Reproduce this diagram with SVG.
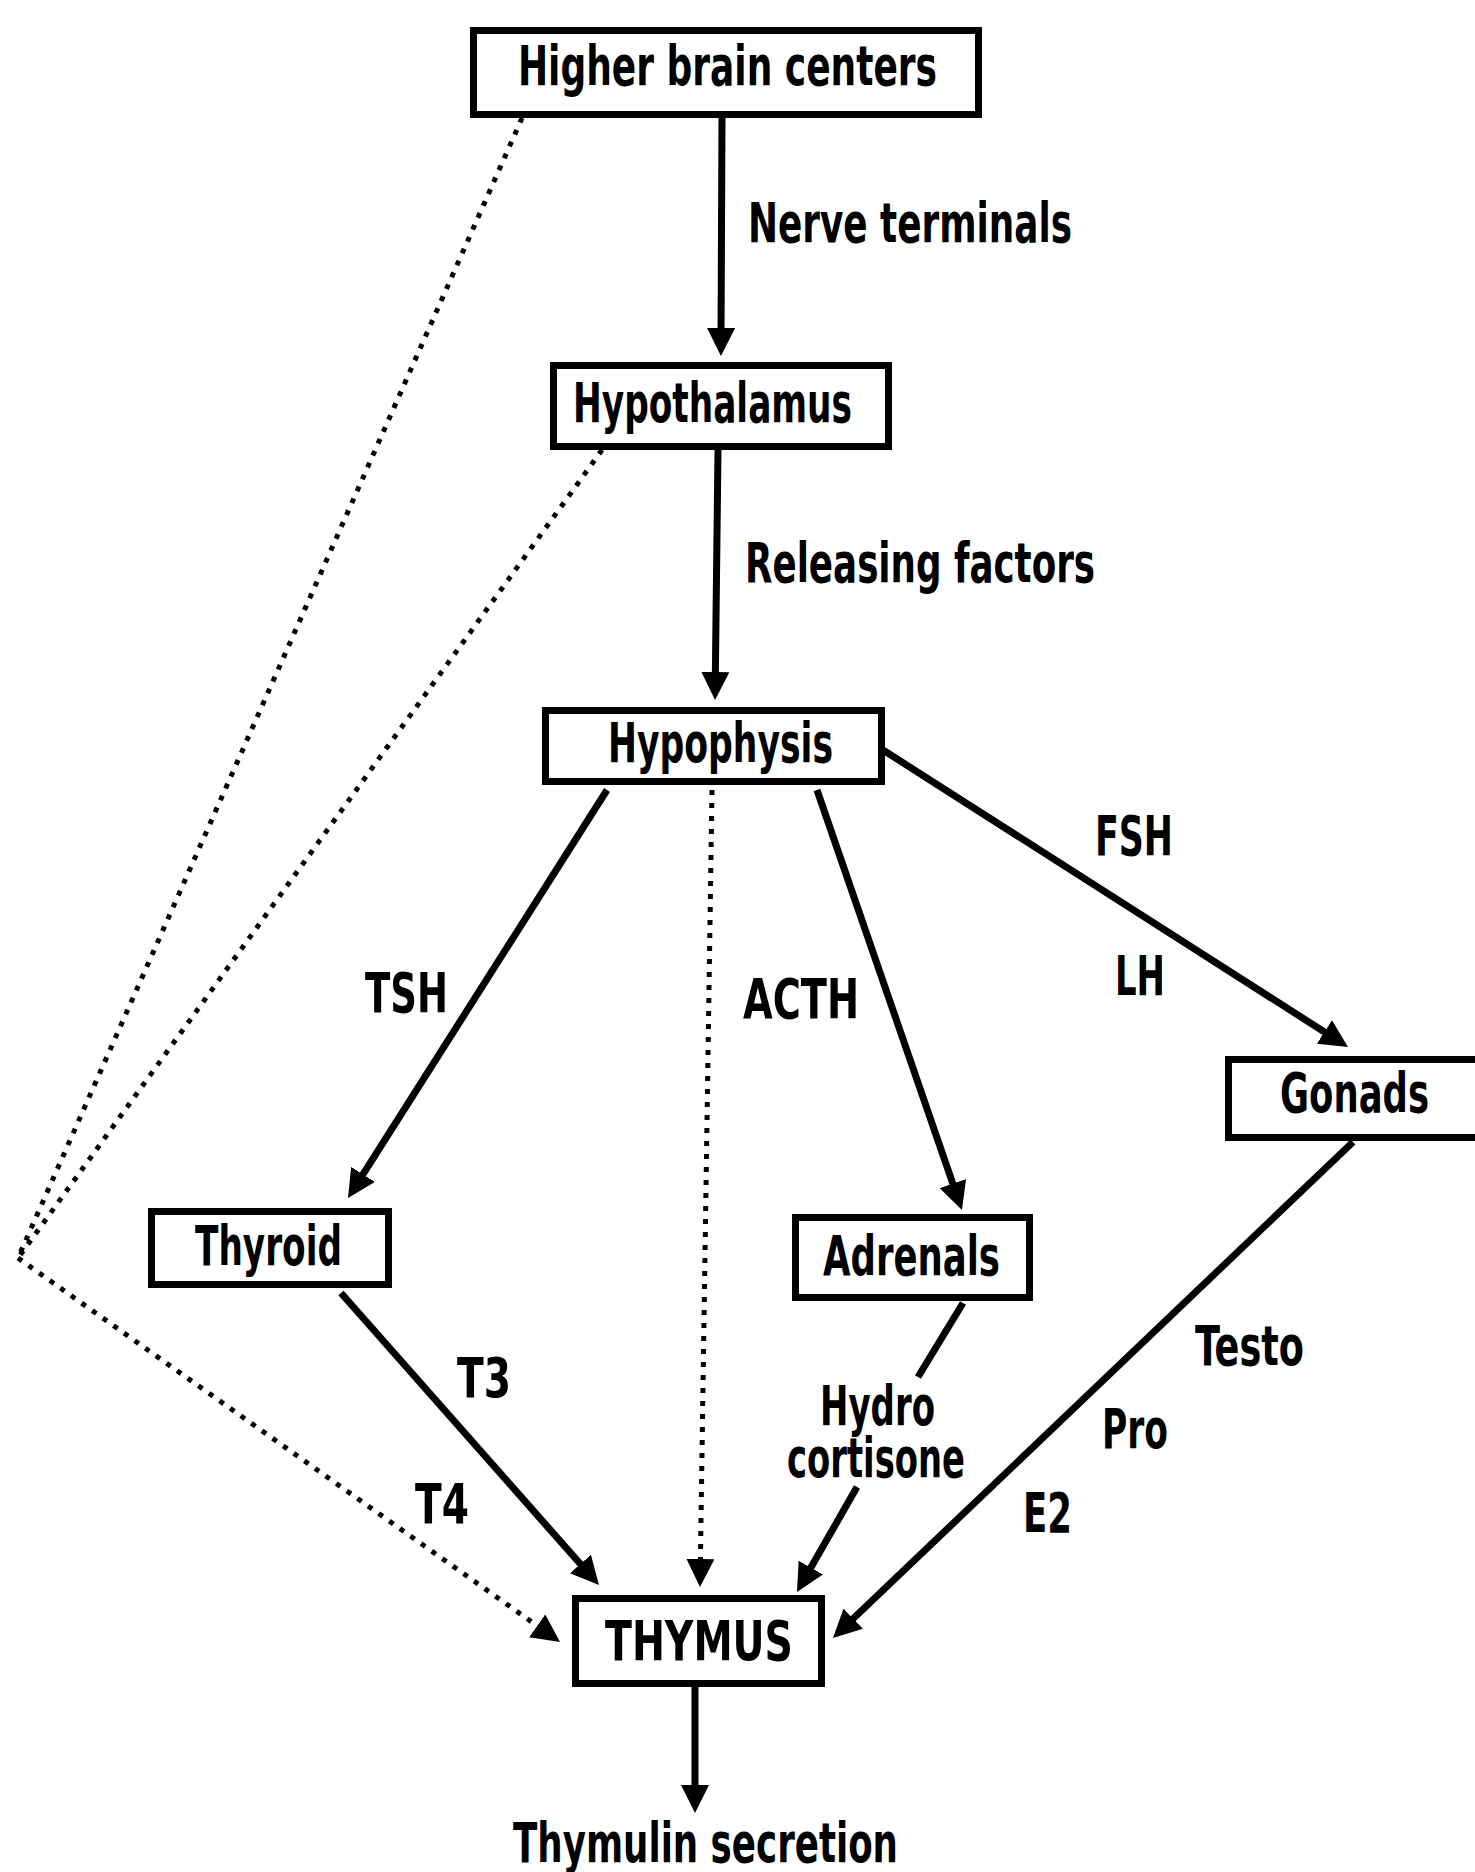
<svg xmlns="http://www.w3.org/2000/svg" width="1475" height="1872" viewBox="0 0 1475 1872">
<defs>
<style>
.box{fill:#fff;stroke:#000;stroke-width:7}
.t{font-family:"Liberation Sans Narrow","DejaVu Sans Condensed","Liberation Sans",Arial,sans-serif;font-weight:bold;font-size:56px;fill:#000}
.s{fill:none;stroke:#000;stroke-width:7}
.d{fill:none;stroke:#000;stroke-width:5;stroke-dasharray:5 8}
</style>
<marker id="ah" viewBox="0 0 28 28" refX="14" refY="14" markerWidth="28" markerHeight="28" markerUnits="userSpaceOnUse" orient="auto">
<path d="M0,0 L28,14 L0,28 Z" fill="#000"/>
</marker>
</defs>
<rect width="1475" height="1872" fill="#fff"/>
<g id="connectors">
<line class="s" x1="722" y1="118" x2="721" y2="342" marker-end="url(#ah)"/>
<line class="s" x1="718" y1="450" x2="715.2" y2="686" marker-end="url(#ah)"/>
<line class="s" x1="607" y1="790" x2="355.5" y2="1186.2" marker-end="url(#ah)"/>
<line class="s" x1="817" y1="790" x2="957.4" y2="1196.8" marker-end="url(#ah)"/>
<line class="s" x1="883" y1="750" x2="1336.2" y2="1039.5" marker-end="url(#ah)"/>
<line class="s" x1="341" y1="1293" x2="589.7" y2="1574.5" marker-end="url(#ah)"/>
<line class="s" x1="963" y1="1303" x2="918" y2="1377"/>
<line class="s" x1="857" y1="1487" x2="803.9" y2="1579.8" marker-end="url(#ah)"/>
<line class="s" x1="1353" y1="1142" x2="843.1" y2="1628.3" marker-end="url(#ah)"/>
<line class="s" x1="695" y1="1687" x2="695" y2="1799" marker-end="url(#ah)"/>
<line class="d" x1="712" y1="790" x2="700.2" y2="1573" marker-end="url(#ah)"/>
<line class="d" x1="522" y1="118" x2="18" y2="1258"/>
<line class="d" x1="602" y1="450" x2="18" y2="1258"/>
<line class="d" x1="18" y1="1258" x2="548.6" y2="1633.9" marker-end="url(#ah)"/>
</g>
<g id="n-higher">
<rect class="box" x="473.5" y="30.5" width="505" height="84"/>
<text class="t" x="518" y="85" textLength="419" lengthAdjust="spacingAndGlyphs" font-size="58">Higher brain centers</text>
</g>
<text class="t" x="748" y="242" textLength="324" lengthAdjust="spacingAndGlyphs">Nerve terminals</text>
<g id="n-hypothalamus">
<rect class="box" x="553.5" y="365.5" width="335" height="81"/>
<text class="t" x="573" y="422" textLength="279" lengthAdjust="spacingAndGlyphs">Hypothalamus</text>
</g>
<text class="t" x="745" y="582" textLength="350" lengthAdjust="spacingAndGlyphs">Releasing factors</text>
<g id="n-hypophysis">
<rect class="box" x="545.5" y="710.5" width="336" height="71"/>
<text class="t" x="608" y="762" textLength="225" lengthAdjust="spacingAndGlyphs">Hypophysis</text>
</g>
<text class="t" x="1095" y="855" textLength="78" lengthAdjust="spacingAndGlyphs">FSH</text>
<text class="t" x="1115" y="995" textLength="50" lengthAdjust="spacingAndGlyphs">LH</text>
<text class="t" x="365" y="1012" textLength="83" lengthAdjust="spacingAndGlyphs">TSH</text>
<text class="t" x="743" y="1018" textLength="116" lengthAdjust="spacingAndGlyphs">ACTH</text>
<g id="n-gonads">
<rect class="box" x="1228.5" y="1059.5" width="260" height="78"/>
<text class="t" x="1280" y="1112" textLength="149" lengthAdjust="spacingAndGlyphs">Gonads</text>
</g>
<g id="n-thyroid">
<rect class="box" x="151.5" y="1211.5" width="237" height="73"/>
<text class="t" x="195" y="1265" textLength="147" lengthAdjust="spacingAndGlyphs">Thyroid</text>
</g>
<g id="n-adrenals">
<rect class="box" x="795.5" y="1217.5" width="234" height="80"/>
<text class="t" x="823" y="1275" textLength="177" lengthAdjust="spacingAndGlyphs">Adrenals</text>
</g>
<text class="t" x="457" y="1397" textLength="54" lengthAdjust="spacingAndGlyphs">T3</text>
<text class="t" x="415" y="1523" textLength="54" lengthAdjust="spacingAndGlyphs">T4</text>
<text class="t" x="820" y="1425" textLength="115" lengthAdjust="spacingAndGlyphs">Hydro</text>
<text class="t" x="787" y="1477" textLength="178" lengthAdjust="spacingAndGlyphs">cortisone</text>
<text class="t" x="1195" y="1365" textLength="109" lengthAdjust="spacingAndGlyphs">Testo</text>
<text class="t" x="1102" y="1448" textLength="66" lengthAdjust="spacingAndGlyphs">Pro</text>
<text class="t" x="1023" y="1532" textLength="49" lengthAdjust="spacingAndGlyphs">E2</text>
<g id="n-thymus">
<rect class="box" x="575.5" y="1598.5" width="246" height="85"/>
<text class="t" x="605" y="1660" textLength="188" lengthAdjust="spacingAndGlyphs">THYMUS</text>
</g>
<text class="t" x="513" y="1862" textLength="385" lengthAdjust="spacingAndGlyphs">Thymulin secretion</text>
</svg>
